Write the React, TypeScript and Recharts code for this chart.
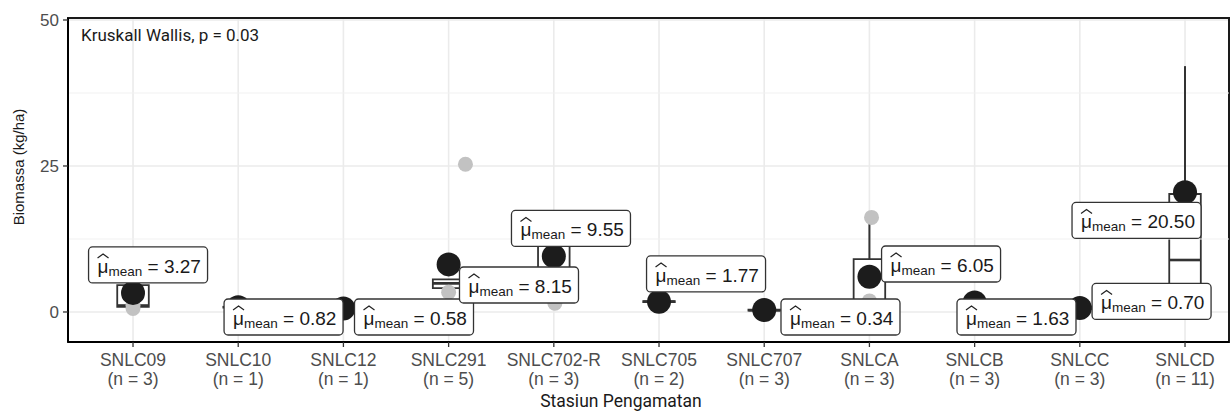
import React from "react";
import {
  ComposedChart,
  Scatter,
  XAxis,
  YAxis,
  CartesianGrid,
  ReferenceArea,
  ReferenceLine,
  Label,
} from "recharts";

// Stations and sample sizes
const stations = ["SNLC09", "SNLC10", "SNLC12", "SNLC291", "SNLC702-R", "SNLC705", "SNLC707", "SNLCA", "SNLCB", "SNLCC", "SNLCD"];
const counts = [3, 1, 1, 5, 3, 2, 3, 3, 3, 3, 11];
const means = [3.27, 0.82, 0.58, 8.15, 9.55, 1.77, 0.34, 6.05, 1.63, 0.7, 20.5];

// box plot stats
const whiskerLow = [0.61, 0.82, 0.58, 0.85, 1.5, 1.6, 0.2, 0.05, 0.9, 0.3, 0.0];
const q1 = [0.86, 0.82, 0.58, 4.1, 6.75, 1.69, 0.25, 0.98, 1.3, 0.5, 2.5];
const median = [1.11, 0.82, 0.58, 4.9, 12.0, 1.77, 0.3, 1.9, 1.7, 0.7, 8.9];
const q3 = [4.6, 0.82, 0.58, 5.6, 13.6, 1.85, 0.41, 9.05, 2.0, 0.9, 20.2];
const whiskerHigh = [8.09, 0.82, 0.58, 5.6, 15.15, 1.94, 0.52, 16.2, 2.3, 1.1, 42.1];

// raw observations per station
const rawValues = [
  [0.61, 1.11, 8.09],
  [0.82],
  [0.58],
  [0.85, 3.4, 4.9, 5.6, 25.3],
  [1.5, 12.0, 15.15],
  [1.6, 1.94],
  [0.2, 0.3, 0.52],
  [0.05, 1.9, 16.2],
  [0.9, 1.7, 2.3],
  [0.3, 0.7, 1.1],
  [0.2, 0.6, 1.2, 1.8, 2.2, 2.8, 3.1, 3.5, 19.9, 20.6, 21.2],
];

const yTicks = [0, 25, 50];

// layout only: horizontal jitter of raw points and where the repelled labels sit
const pointJitter = [
  [0, 0, 0],
  [0],
  [0],
  [0, 0, 0.2, 0.22, 0.16],
  [0.01, 0, 0],
  [0, 0],
  [0, 0, 0],
  [0, 0, 0.02],
  [0, 0, 0],
  [0, 0, 0],
  [0, 0, 0, 0, 0, 0, 0, 0, 0, 0, 0],
];
const labelX = [1.143, 2.431, 3.671, 4.669, 5.163, 6.447, 7.725, 8.681, 9.398, 10.682, 10.539];
const labelY = [8.05, -0.86, -0.86, 4.62, 14.3, 6.51, -0.86, 8.22, -0.86, 1.8, 15.67];

const xDomain = [0.382, 11.418];
const yDomain = [-5.14, 50.34];
const BOX_HALF = 0.15;

const positions = stations.map((_, i) => i + 1);
const minorY = yTicks.slice(1).map((t, i) => (t + yTicks[i]) / 2);

const rawData = rawValues.flatMap((vals, gi) =>
  vals.map((v, j) => ({ x: gi + 1 + pointJitter[gi][j], y: v }))
);
const meanData = means.map((m, i) => ({ x: i + 1, y: m }));
const labelData = means.map((m, i) => ({ x: labelX[i], y: labelY[i], text: m.toFixed(2) }));

const SANS = "'Liberation Sans', Arial, sans-serif";
const DIN = "Roboto, 'Noto Sans', sans-serif";

const GrayDot = (props: any) => {
  const { cx, cy } = props;
  return <circle cx={cx} cy={cy} r={7.5} fill="#c2c2c2" />;
};

const MeanDot = (props: any) => {
  const { cx, cy } = props;
  return <circle cx={cx} cy={cy} r={12} fill="#1c1c1c" />;
};

const MeanLabel = (props: any) => {
  const { cx, cy, payload } = props;
  const value: string = payload.text;
  const w = 79 + value.length * 10;
  const h = 36;
  const left = cx - w / 2;
  const tx = left + 9;
  return (
    <g>
      <rect x={left} y={cy - h / 2} width={w} height={h} rx={4} ry={4} fill="#fff" stroke="#333" strokeWidth={1.3} />
      <path d={`M${tx},${cy - 7} L${tx + 5.5},${cy - 11} L${tx + 11},${cy - 7}`} fill="none" stroke="#222" strokeWidth={1.2} />
      <text x={tx} y={cy + 8} fontSize={19} fontFamily={SANS} fill="#1a1a1a">
        <tspan>μ</tspan>
        <tspan fontSize={13.5} dy={3}>mean</tspan>
        <tspan dy={-3}>{" = " + value}</tspan>
      </text>
    </g>
  );
};

const StationTick = (props: any) => {
  const { x, y, payload } = props;
  const i = Math.round(payload.value) - 1;
  return (
    <text x={x} y={y} textAnchor="middle" fontSize={17.5} fontFamily={SANS} fill="#4d4d4d">
      <tspan x={x} dy={16.5}>{stations[i]}</tspan>
      <tspan x={x} dy={19}>{`(n = ${counts[i]})`}</tspan>
    </text>
  );
};

const XTitle = (props: any) => {
  const vb = props.viewBox;
  return (
    <text x={vb.x + vb.width / 2 - 27.5} y={407} textAnchor="middle" fontSize={17.5} fontFamily={DIN} fill="#1a1a1a">
      Stasiun Pengamatan
    </text>
  );
};

const YTitle = () => (
  <text x={18} y={167} transform="rotate(-90 18 167)" textAnchor="middle" dominantBaseline="central" fontSize={15} fontFamily={SANS} fill="#1a1a1a">
    Biomassa (kg/ha)
  </text>
);

const StatText = (props: any) => {
  const vb = props.viewBox;
  return (
    <text x={vb.x + 13} y={vb.y + 23} fontSize={17} fontFamily={DIN} fill="#1a1a1a">
      Kruskall Wallis, p = 0.03
    </text>
  );
};

export default function App() {
  return (
    <div style={{ position: "absolute", left: 0, top: 0, background: "#fff" }}>
      <ComposedChart width={1230} height={412} margin={{ top: 18, right: 1, bottom: 0, left: 0 }}>
        <CartesianGrid stroke="#ebebeb" strokeWidth={1.6} />
        {minorY.map((v) => (
          <ReferenceLine key={`minor-${v}`} y={v} stroke="#f1f1f1" strokeWidth={1.1} />
        ))}
        <XAxis
          type="number"
          dataKey="x"
          domain={xDomain}
          ticks={positions}
          allowDataOverflow
          height={70}
          tickSize={5}
          tickMargin={2}
          tick={<StationTick />}
          tickLine={{ stroke: "#333", strokeWidth: 1.3 }}
          axisLine={{ stroke: "#000", strokeWidth: 2 }}
          interval={0}
        >
          <Label content={<XTitle />} />
        </XAxis>
        <YAxis
          type="number"
          dataKey="y"
          domain={yDomain}
          ticks={yTicks}
          allowDataOverflow
          width={68}
          tickSize={5}
          tickMargin={4}
          tick={{ fill: "#4d4d4d", fontSize: 17, fontFamily: SANS }}
          tickLine={{ stroke: "#333", strokeWidth: 1.3 }}
          axisLine={{ stroke: "#000", strokeWidth: 2 }}
        >
          <Label content={<YTitle />} />
        </YAxis>

        <Scatter data={rawData} shape={<GrayDot />} isAnimationActive={false} />

        {positions.map((p, i) => (
          <ReferenceLine
            key={`wl-${i}`}
            segment={[{ x: p, y: whiskerLow[i] }, { x: p, y: q1[i] }]}
            stroke="#333"
            strokeWidth={2}
          />
        ))}
        {positions.map((p, i) => (
          <ReferenceLine
            key={`wh-${i}`}
            segment={[{ x: p, y: q3[i] }, { x: p, y: whiskerHigh[i] }]}
            stroke="#333"
            strokeWidth={2}
          />
        ))}
        {positions.map((p, i) => (
          <ReferenceArea
            key={`box-${i}`}
            x1={p - BOX_HALF}
            x2={p + BOX_HALF}
            y1={q1[i]}
            y2={q3[i]}
            fill="#fff"
            fillOpacity={1}
            stroke="#333"
            strokeWidth={1.8}
          />
        ))}
        {positions.map((p, i) => (
          <ReferenceLine
            key={`med-${i}`}
            segment={[{ x: p - BOX_HALF, y: median[i] }, { x: p + BOX_HALF, y: median[i] }]}
            stroke="#333"
            strokeWidth={2.6}
          />
        ))}

        <Scatter data={meanData} shape={<MeanDot />} isAnimationActive={false} />
        <Scatter data={labelData} shape={<MeanLabel />} isAnimationActive={false} />

        <ReferenceArea
          x1={xDomain[0]}
          x2={xDomain[1]}
          y1={yDomain[0]}
          y2={yDomain[1]}
          fill="none"
          stroke="#1a1a1a"
          strokeWidth={2}
        >
          <Label content={<StatText />} />
        </ReferenceArea>
      </ComposedChart>
    </div>
  );
}
